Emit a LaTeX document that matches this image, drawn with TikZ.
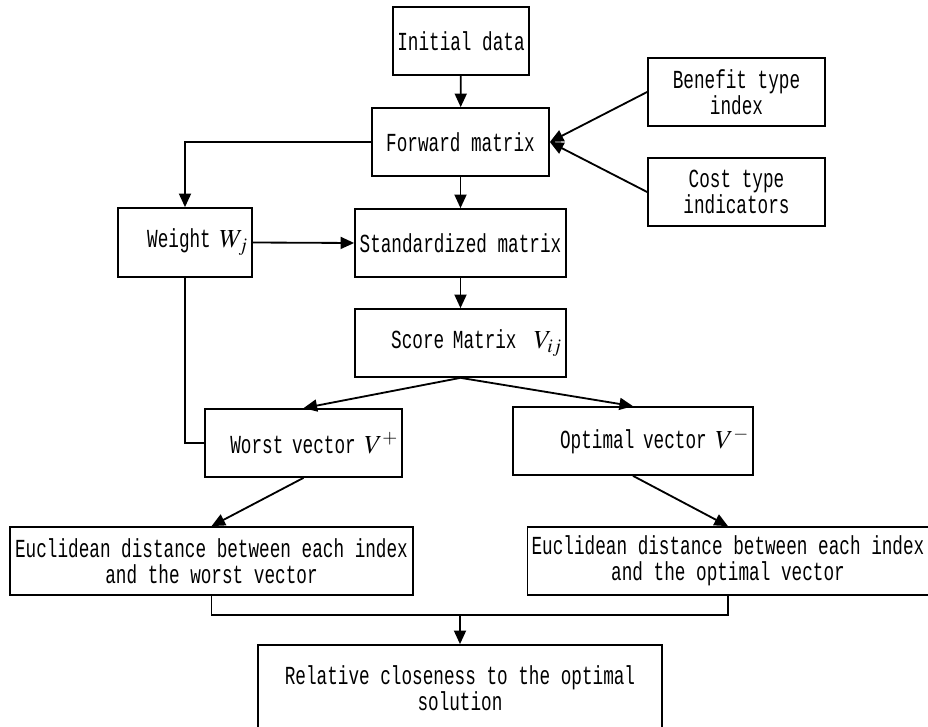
\documentclass[tikz,border=0pt]{standalone}
\usepackage{mathptmx}
\usepackage{fontspec}
\newfontfamily\boxfont{Liberation Mono}[FakeStretch=0.68]
\usetikzlibrary{arrows.meta}
\tikzset{
    box/.style={draw, line width=1.2pt, minimum height=1.7cm, inner xsep=0.1cm,
        font=\boxfont\fontsize{18.5pt}{18.5pt}\selectfont, align=center},
    rbox/.style={box, text width=#1, align=right},
    link/.style={line width=1.3pt, ->, >={Triangle[length=0.34cm,width=0.3cm]}}
}
\begin{document}
\begin{tikzpicture}[x=0.025cm, y=-0.025cm]
        \useasboundingbox (0,0) rectangle (928,727);
        \node[box, minimum width=3.4cm] (init) at (461,41) {Initial data};
        \node[box, minimum width=4.425cm] (fwd) at (460.5,142) {Forward matrix};
        \node[box, minimum width=4.425cm] (benefit) at (736.5,92) {Benefit type\\index};
        \node[box, minimum width=4.425cm] (cost) at (736.5,192) {Cost type\\indicators};
        \node[rbox=3.15cm, minimum height=1.725cm] (weight) at (185,242.5) {Weight $W_j$};
        \node[box, minimum width=5.275cm] (std) at (460.5,243) {Standardized matrix};
        \node[rbox=5.075cm] (score) at (460.5,343) {Score Matrix\ \ $V_{ij}$};
        \node[rbox=4.725cm] (worst) at (303.5,443) {Worst vector $V^{+}$};
        \node[rbox=5.8cm] (optimal) at (633,441) {Optimal vector $V^{-}$};
        \node[box, minimum width=10.075cm] (euclw) at (211.5,561) {Euclidean distance between each index\\and the worst vector};
        \node[box, minimum width=10cm] (euclo) at (728,561) {Euclidean distance between each index\\and the optimal vector};
        \node[box, minimum width=10.1cm, minimum height=2.15cm] (close) at (460,688) {Relative closeness to the optimal\\solution};
        \coordinate (join) at (460,615);
        \draw[link] (init) -- (fwd);
        \draw[link] (benefit.west) -- (fwd.east);
        \draw[link] (cost.west) -- (fwd.east);
        \draw[link] (fwd.west) -| (weight.north);
        \draw[link] (fwd) -- (std);
        \draw[link] (weight.east) -- (std.west);
        \draw[link] (std) -- (score);
        \draw[link] (score.south) -- (worst.north);
        \draw[link] (score.south) -- (optimal.north);
        \draw[line width=1.3pt] (weight.south) |- (worst.west);
        \draw[link] (worst.south) -- (euclw.north);
        \draw[link] (optimal.south) -- (euclo.north);
        \draw[line width=1.3pt] (euclw.south) |- (join) -| (euclo.south);
        \draw[link] (join) -- (close);
    \end{tikzpicture}
\end{document}
